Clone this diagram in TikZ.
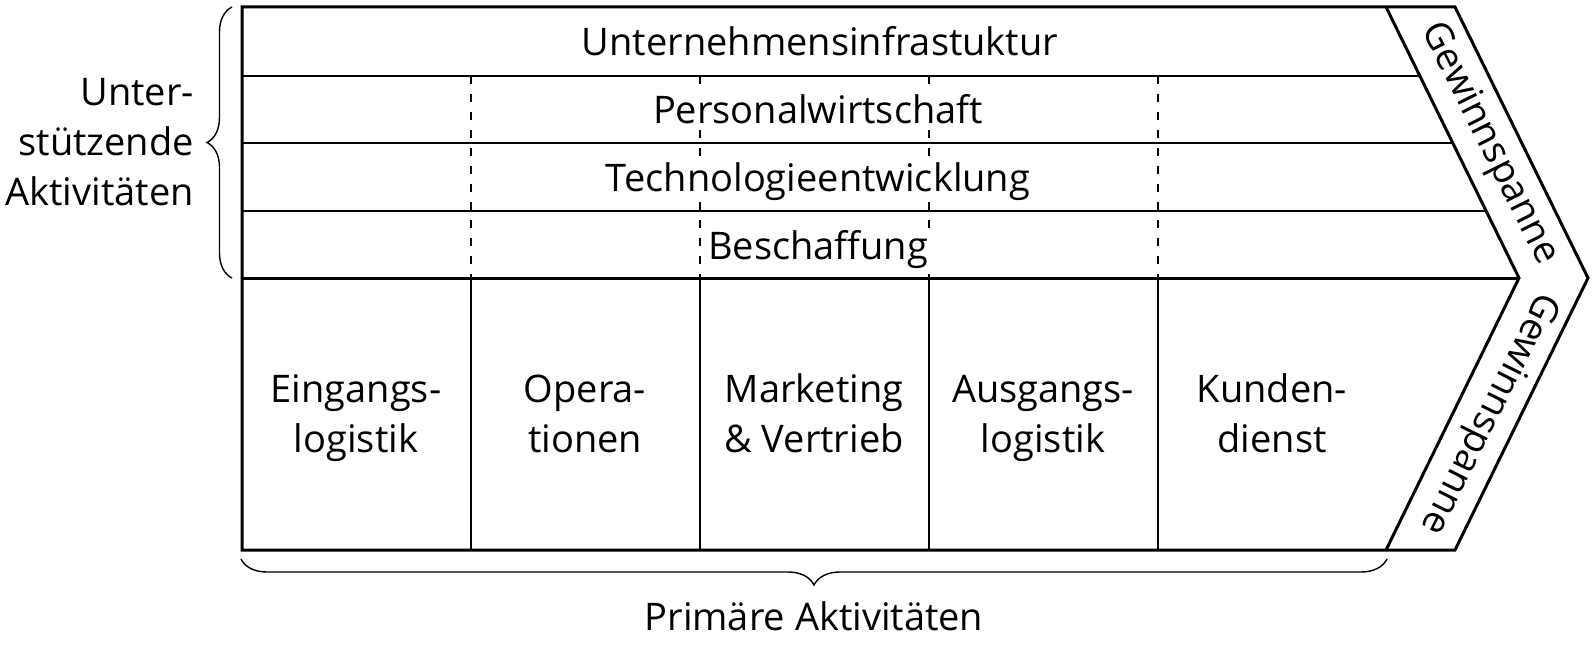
\documentclass[tikz,border=0pt]{standalone}
\usepackage{fontspec}
\setmainfont{Open Sans}
\usetikzlibrary{decorations.pathreplacing}
\begin{document}
\begin{tikzpicture}[x=1pt,y=-1pt,
  frameline/.style={line width=3pt, line join=miter},
  rowline/.style={line width=1.3pt},
  colline/.style={line width=1.4pt},
  dashline/.style={line width=1.5pt, dash pattern=on 8pt off 10pt},
  txt/.style={font=\fontsize{38}{50}\selectfont, inner sep=0pt},
  rowtxt/.style={txt, fill=white, inner xsep=3pt, inner ysep=2pt, anchor=base},
  coltxt/.style={txt, align=center},
  bandtxt/.style={txt},
  bracestyle/.style={line width=1.4pt, decorate, decoration={brace, amplitude=25pt}}]
\useasboundingbox (0,0) rectangle (1594,650);
% outline coordinates
\coordinate (TL) at (242,7);
\coordinate (ML) at (242,278);
\coordinate (BL) at (242,550);
\coordinate (TI) at (1386,7);
\coordinate (TipI) at (1519,278);
\coordinate (BI) at (1386,550);
\coordinate (TO) at (1455,7);
\coordinate (TipO) at (1588,278);
\coordinate (BO) at (1455,550);
% row line ends
\coordinate (R1a) at (242,76);  \coordinate (R1b) at (1420,76);
\coordinate (R2a) at (242,143); \coordinate (R2b) at (1453,143);
\coordinate (R3a) at (242,211); \coordinate (R3b) at (1486,211);
% column coordinates
\foreach \i/\x in {1/471,2/700,3/929,4/1158}{
  \coordinate (C\i t) at (\x,76);
  \coordinate (C\i m) at (\x,278);
  \coordinate (C\i b) at (\x,550);
}
% thin lines
\draw[rowline] (R1a) -- (R1b);
\draw[rowline] (R2a) -- (R2b);
\draw[rowline] (R3a) -- (R3b);
\foreach \i in {1,2,3,4}{
  \draw[dashline] (C\i t) -- (C\i m);
  \draw[colline] (C\i m) -- (C\i b);
}
% thick frame
\draw[frameline] (TL) -- (TO) -- (TipO) -- (BO) -- (BL) -- cycle;
\draw[frameline] (TI) -- (TipI) -- (BI);
\draw[frameline] (ML) -- (TipI);
% support activity labels
\node[rowtxt] (infra) at (820,56) {Unternehmensinfrastuktur};
\node[rowtxt] (pers) at (818,124) {Personalwirtschaft};
\node[rowtxt] (tech) at (818,191) {Technologieentwicklung};
\node[rowtxt] (besch) at (818,259) {Beschaffung};
% primary activity labels
\node[coltxt] (ein) at (356,417) {\strut Eingangs-\\\strut logistik};
\node[coltxt] (ope) at (585,417) {\strut Opera-\\\strut tionen};
\node[coltxt] (mar) at (814,417) {\strut Marketing\\\strut \& Vertrieb};
\node[coltxt] (aus) at (1043,417) {\strut Ausgangs-\\\strut logistik};
\node[coltxt] (kun) at (1272,417) {\strut Kunden-\\\strut dienst};
% margin labels
\node[bandtxt, rotate=-63.43] (gw1) at (1489,144) {Gewinnspanne};
\node[bandtxt, rotate=-116.57] (gw2) at (1489,413) {Gewinnspanne};
% braces
\coordinate (LBt) at (232,7);
\coordinate (LBb) at (232,278);
\draw[bracestyle] (LBb) -- (LBt);
\node[txt, align=right, anchor=east] (unter) at (194,145) {\strut Unter-\\\strut stützende\\\strut Aktivitäten};
\coordinate (BBl) at (241,559);
\coordinate (BBr) at (1387,559);
\draw[bracestyle, decoration={amplitude=26pt}] (BBr) -- (BBl);
\node[txt, anchor=base] (prim) at (814,630) {Primäre Aktivitäten};
\end{tikzpicture}
\end{document}
